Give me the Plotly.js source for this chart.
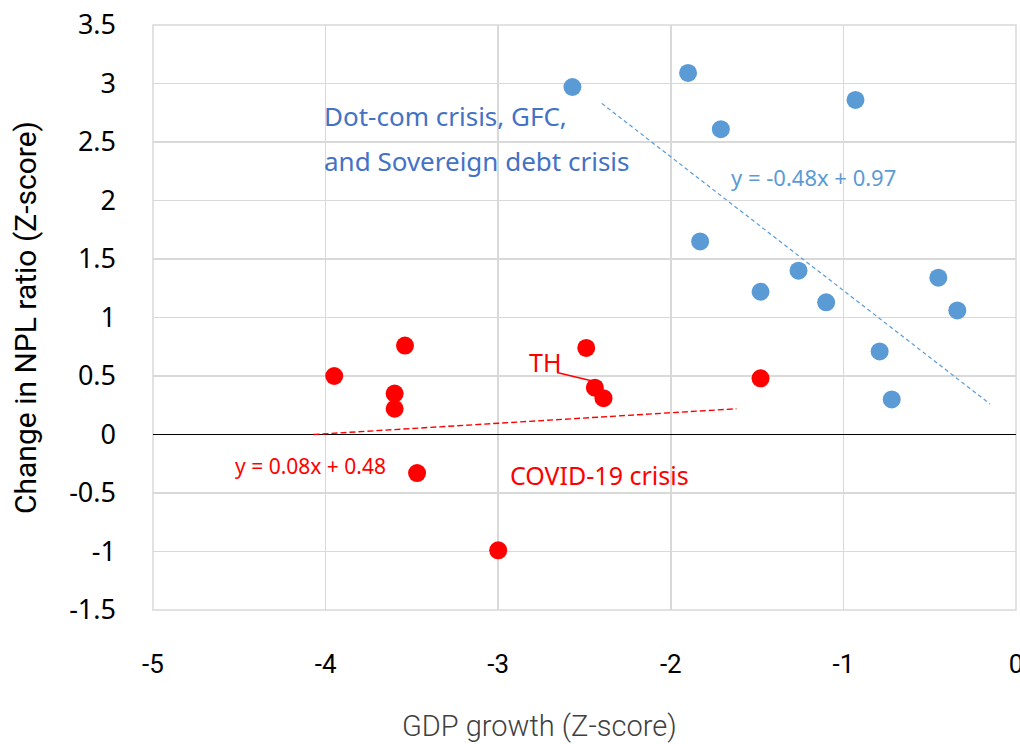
<!DOCTYPE html>
<html>
<head>
<meta charset="utf-8">
<script src="https://cdn.plot.ly/plotly-3.0.1.min.js"></script>
<style>html,body{margin:0;padding:0;background:#fff;}#chart{width:1020px;height:744px;}</style>
</head>
<body>
<div id="chart"></div>
<script>
// Blue: Dot-com crisis, GFC, and Sovereign debt crisis
var blueX = [-2.57, -1.90, -1.71, -0.93, -1.83, -1.48, -1.26, -1.10, -0.45, -0.34, -0.79, -0.72];
var blueY = [2.97, 3.09, 2.61, 2.86, 1.65, 1.22, 1.40, 1.13, 1.34, 1.06, 0.71, 0.30];
// Red: COVID-19 crisis
var redX = [-3.95, -3.54, -3.60, -3.60, -3.47, -3.00, -2.49, -2.44, -2.39, -1.48];
var redY = [0.50, 0.76, 0.35, 0.22, -0.33, -0.99, 0.74, 0.40, 0.31, 0.48];
// Trendline endpoints as drawn
var blueTrendX = [-2.40, -0.15];
var blueTrendY = [2.83, 0.26];
var redTrendX = [-4.07, -1.62];
var redTrendY = [0.00, 0.22];
var xTicks = [-5, -4, -3, -2, -1, 0];
var yTicks = [-1.5, -1, -0.5, 0, 0.5, 1, 1.5, 2, 2.5, 3, 3.5];

var blue = '#5B9BD5', red = '#FF0000';
var traces = [
  {x: blueTrendX, y: blueTrendY, mode: 'lines', line: {color: blue, width: 1.2, dash: '4px,3px'}, hoverinfo: 'skip'},
  {x: redTrendX, y: redTrendY, mode: 'lines', line: {color: red, width: 1.4, dash: '6px,3px'}, hoverinfo: 'skip'},
  {x: blueX, y: blueY, mode: 'markers', marker: {color: blue, size: 18, line: {width: 0}}},
  {x: redX, y: redY, mode: 'markers', marker: {color: red, size: 18, line: {width: 0}}}
];

var layout = {
  width: 1020, height: 744,
  margin: {l: 153, r: 4, t: 25, b: 134},
  paper_bgcolor: '#fff', plot_bgcolor: '#fff',
  showlegend: false,
  xaxis: {
    range: [-5, 0], tickvals: xTicks, ticktext: xTicks.map(String),
    showgrid: true, gridcolor: '#D9D9D9', gridwidth: 1.5,
    zeroline: false, showline: false, ticks: '',
    ticklabeloverflow: 'allow',
    tickfont: {family: 'Roboto, sans-serif', size: 26, color: '#000'}, ticklabelstandoff: 36
  },
  yaxis: {
    range: [-1.5, 3.5], tickvals: yTicks, ticktext: yTicks.map(String),
    showgrid: true, gridcolor: '#D9D9D9', gridwidth: 1.5,
    zeroline: true, zerolinecolor: '#000', zerolinewidth: 1.5,
    showline: false, ticks: '',
    tickfont: {family: 'Noto Sans, sans-serif', size: 27, color: '#000'}, ticklabelstandoff: 36,
    title: {text: 'Change in NPL ratio (Z-score)', font: {family: 'Roboto, sans-serif', size: 30, color: '#000'}, standoff: 23}
  },
  shapes: [
    {type: 'rect', xref: 'paper', yref: 'paper', x0: 0, x1: 1, y0: 0, y1: 1, line: {color: '#D9D9D9', width: 1.5}, layer: 'below'},
    {type: 'line', xref: 'x', yref: 'y', x0: -2.66, y0: 0.53, x1: -2.46, y1: 0.46, line: {color: red, width: 1.5}}
  ],
  annotations: [
    {x: 0.4484, y: -0.199, xref: 'paper', yref: 'paper', xanchor: 'center', yanchor: 'middle', showarrow: false, text: 'GDP growth (Z-score)', font: {family: 'Roboto, sans-serif', size: 29, color: '#404040', weight: 300}},
    {x: -4.02, y: 2.72, xref: 'x', yref: 'y', xanchor: 'left', yanchor: 'middle', showarrow: false, text: 'Dot-com crisis, GFC,', font: {family: 'Noto Sans, sans-serif', size: 26, color: '#4472C4'}},
    {x: -4.02, y: 2.34, xref: 'x', yref: 'y', xanchor: 'left', yanchor: 'middle', showarrow: false, text: 'and Sovereign debt crisis', font: {family: 'Noto Sans, sans-serif', size: 26, color: '#4472C4'}},
    {x: -1.665, y: 2.20, xref: 'x', yref: 'y', xanchor: 'left', yanchor: 'middle', showarrow: false, text: 'y = -0.48x + 0.97', font: {family: 'Noto Sans, sans-serif', size: 22, color: blue}},
    {x: -2.835, y: 0.62, xref: 'x', yref: 'y', xanchor: 'left', yanchor: 'middle', showarrow: false, text: 'TH', font: {family: 'Noto Sans, sans-serif', size: 25, color: red}},
    {x: -2.945, y: -0.35, xref: 'x', yref: 'y', xanchor: 'left', yanchor: 'middle', showarrow: false, text: 'COVID-19 crisis', font: {family: 'Noto Sans, sans-serif', size: 25, color: red}},
    {x: -4.535, y: -0.27, xref: 'x', yref: 'y', xanchor: 'left', yanchor: 'middle', showarrow: false, text: 'y = 0.08x + 0.48', font: {family: 'Noto Sans, sans-serif', size: 21, color: red}}
  ]
};
Plotly.newPlot('chart', traces, layout, {displayModeBar: false, staticPlot: true});
</script>
</body>
</html>
